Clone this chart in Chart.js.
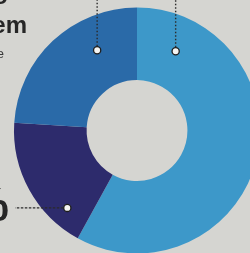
<!DOCTYPE html>
<html>
<head>
<meta charset="utf-8">
<script src="https://cdn.jsdelivr.net/npm/chart.js@4/dist/chart.umd.min.js"></script>
<style>
html,body{margin:0;padding:0;background:#d5d5d1;overflow:hidden;width:250px;height:253px;}
#wrap{position:absolute;left:0;top:0;width:274px;height:261px;}
</style>
</head>
<body>
<div id="wrap"><canvas id="c" width="274" height="261"></canvas></div>
<script>
// data
const categories = ["Kategori A", "Kategori B", "Kategori C"];
const values = [58, 18, 24];
const colors = ["#3d98c9", "#2d2b6c", "#2a6aa8"];
// callouts: segment index, angle (deg clockwise from top), radial fraction in ring
const calloutSegment = [2, 0, 1];
const calloutAngle = [333.6, 26, 222];
const calloutFrac = [0.54, 0.52, 0.74];
const calloutDir = ["up", "up", "left"];
// side labels (cropped off the left edge)
const sideLabels = [
  {text: "Saldo", weight: "bold", size: 24, x: 8, y: 4, color: "#262626"},
  {text: "sistem", weight: "bold", size: 24, x: 27, y: 33, color: "#262626"},
  {text: "Sumber data e", weight: "normal", size: 13, x: 4, y: 58, color: "#3a3a3a"},
  {text: "18%", weight: "bold", size: 48, x: 9, y: 221, color: "#262626"}
];

const overlay = {
  id: "overlay",
  afterDraw(chart) {
    const ctx = chart.ctx;
    const meta = chart.getDatasetMeta(0);
    ctx.save();
    // side labels
    ctx.textAlign = "right";
    ctx.textBaseline = "alphabetic";
    sideLabels.forEach(l => {
      ctx.font = l.weight + " " + l.size + "px 'Liberation Sans Narrow', 'Liberation Sans', Arial, sans-serif";
      ctx.fillStyle = l.color;
      ctx.fillText(l.text, l.x, l.y);
    });
    // callouts
    calloutSegment.forEach((si, i) => {
      const arc = meta.data[si];
      const cx = arc.x, cy = arc.y;
      const r = arc.innerRadius + (arc.outerRadius - arc.innerRadius) * calloutFrac[i];
      const a = (calloutAngle[i] - 90) * Math.PI / 180;
      const px = cx + r * Math.cos(a), py = cy + r * Math.sin(a);
      ctx.strokeStyle = "#2b2b2b";
      ctx.lineWidth = 1.4;
      ctx.beginPath();
      if (calloutDir[i] === "up") {
        ctx.setLineDash([1.5, 2]);
        ctx.moveTo(px, py - 4);
        ctx.lineTo(px, 0);
      } else {
        ctx.setLineDash([2.5, 1.5]);
        ctx.moveTo(px - 4, py);
        ctx.lineTo(15, py);
      }
      ctx.stroke();
      ctx.setLineDash([]);
      ctx.beginPath();
      ctx.arc(px, py, 3.6, 0, Math.PI * 2);
      ctx.fillStyle = "#f4f4f2";
      ctx.fill();
      ctx.lineWidth = 1.3;
      ctx.strokeStyle = "#1e1e1e";
      ctx.stroke();
    });
    ctx.restore();
  }
};

new Chart(document.getElementById("c"), {
  type: "doughnut",
  data: {
    labels: categories,
    datasets: [{
      data: values,
      backgroundColor: colors,
      borderWidth: 0,
      hoverOffset: 0,
      offset: 0
    }]
  },
  options: {
    responsive: false,
    animation: false,
    cutout: "41%",
    rotation: 0,
    layout: {padding: {left: 14, right: 14, top: 7.5, bottom: 7.5}},
    plugins: {legend: {display: false}, tooltip: {enabled: false}}
  },
  plugins: [overlay]
});
</script>
</body>
</html>
